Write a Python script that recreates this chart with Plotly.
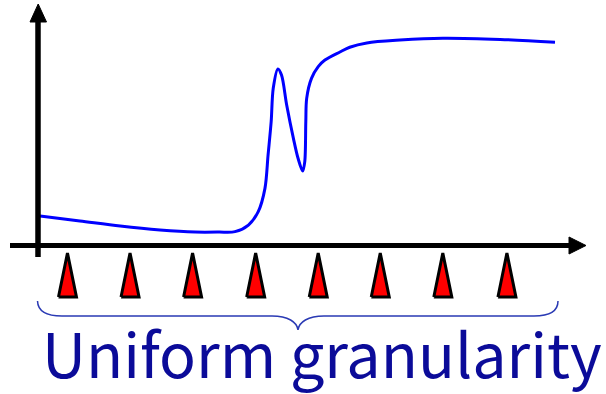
import plotly.graph_objects as go

# ---- data ----
# signal curve: time t (0..100) vs value v (axis = 0, plateau ~100)
curve_t = [0.4, 8.1, 15.9, 23.6, 30.4, 35.0, 38.1, 40.7, 42.6, 43.9, 44.5, 45.1, 45.5, 46.4,
           47.1, 48.1, 49.4, 50.3, 51.2, 51.6, 51.8, 51.97, 52.9, 54.2, 55.5, 58.4, 60.3,
           63.6, 70.0, 78.3, 89.4, 100.0]
curve_v = [13.6, 11.2, 8.7, 6.8, 5.8, 5.8, 6.0, 9.2, 15.7, 27.0, 43.2, 59.4, 75.6, 85.0,
           82.0, 67.5, 51.3, 41.6, 35.4, 40.0, 59.4, 70.7, 80.4, 86.1, 89.3, 93.2, 95.5,
           97.6, 99.0, 99.9, 99.3, 97.9]
# uniform sampling positions (red markers)
sample_t = [5.7, 17.8, 29.9, 42.1, 54.2, 66.2, 78.3, 90.7]
label_text = "Uniform granularity"

# ---- geometry / scale ----
W, H = 606, 394
PX0, PXS = 38.0, 5.17   # pixel x of t=0, px per t-unit
PY0, PYS = 244.0, 2.06  # pixel y of v=0, px per v-unit


def X(px):
    return (px - PX0) / PXS


def Y(py):
    return (PY0 - py) / PYS


fig = go.Figure()

# sampling triangles
HW = 9.0 / PXS
TT, TB = Y(253), Y(297)
tx, ty = [], []
for s in sample_t:
    tx += [s - HW, s, s + HW, s - HW, None]
    ty += [TB, TT, TB, TB, None]
fig.add_trace(go.Scatter(x=tx, y=ty, mode="lines", fill="toself", fillcolor="#ff0000",
                         line=dict(color="black", width=3), hoverinfo="skip"))

# curve
fig.add_trace(go.Scatter(x=curve_t, y=curve_v, mode="lines",
                         line=dict(color="#0000ff", width=3, shape="spline", smoothing=0.9),
                         hoverinfo="skip"))

shapes = []
# vertical axis with arrow
shapes.append(dict(type="line", xref="x", yref="y", x0=X(38), x1=X(38), y0=Y(257), y1=Y(20),
                   line=dict(color="black", width=5.5)))
shapes.append(dict(type="path", xref="x", yref="y",
                   path=f"M {X(30)},{Y(22)} L {X(46.5)},{Y(22)} L {X(38.2)},{Y(4)} Z",
                   fillcolor="black", line=dict(color="black", width=1)))
# horizontal axis with arrow
shapes.append(dict(type="line", xref="x", yref="y", x0=X(10), x1=X(571), y0=Y(245.5), y1=Y(245.5),
                   line=dict(color="black", width=5)))
shapes.append(dict(type="path", xref="x", yref="y",
                   path=f"M {X(569)},{Y(237)} L {X(569)},{Y(254)} L {X(586)},{Y(245.5)} Z",
                   fillcolor="black", line=dict(color="black", width=1)))
# brace
brace = (f"M {X(37.5)},{Y(301)} Q {X(38)},{Y(316)} {X(62)},{Y(316)} "
         f"L {X(272)},{Y(316)} C {X(288)},{Y(316)} {X(297)},{Y(322)} {X(298)},{Y(330)} "
         f"C {X(299)},{Y(322)} {X(308)},{Y(316)} {X(324)},{Y(316)} "
         f"L {X(534)},{Y(316)} Q {X(558)},{Y(316)} {X(558)},{Y(301)}")
shapes.append(dict(type="path", xref="x", yref="y", path=brace,
                   line=dict(color="#2a3ab4", width=1.5)))

fig.update_layout(
    width=W, height=H, margin=dict(l=0, r=0, t=0, b=0),
    paper_bgcolor="white", plot_bgcolor="white", showlegend=False,
    xaxis=dict(range=[X(0), X(W)], visible=False, fixedrange=True),
    yaxis=dict(range=[Y(H), Y(0)], visible=False, fixedrange=True),
    shapes=shapes,
    annotations=[dict(x=X(322), y=Y(351), xref="x", yref="y", text=label_text,
                      showarrow=False, xanchor="center", yanchor="middle",
                      font=dict(family="Noto Sans CJK JP", size=61, color="#0b0b99"))],
)

fig.write_html("out.html", config={"displayModeBar": False},
               post_script="document.body.style.margin='0';document.body.style.overflow='hidden';")
